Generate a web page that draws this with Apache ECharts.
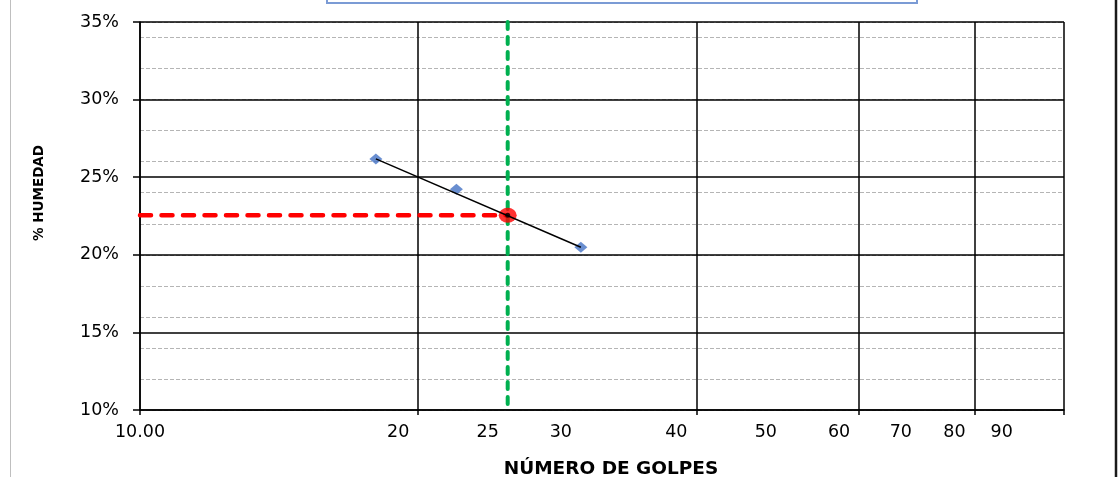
<!DOCTYPE html>
<html>
<head>
<meta charset="utf-8">
<script src="https://cdn.jsdelivr.net/npm/echarts@6/dist/echarts.min.js"></script>
<style>html,body{margin:0;padding:0;background:#fff}#c{width:1118px;height:477px}</style>
</head>
<body>
<div id="c"></div>
<script>
// ---- data ----
const golpes = [18, 22, 30];
const humedad = [0.2618, 0.2423, 0.2049];
const trendGolpes = [18, 30];
const trendHumedad = [0.2618, 0.2049];
const resultGolpes = [25];
const resultHumedad = [0.2255];
const xTickValues = [10, 20, 25, 30, 40, 50, 60, 70, 80, 90];
const xTickLabels = ['10.00', '20', '25', '30', '40', '50', '60', '70', '80', '90'];
const xGridValues = [10, 20, 40, 60, 80, 100];
const xMin = 10, xMax = 100;
const yMin = 0.10, yMax = 0.35, yMajor = 0.05, yMinor = 0.02;
const xTitle = 'NÚMERO DE GOLPES';
const yTitle = '% HUMEDAD';

const FONT = 'DejaVu Sans';
const LBL = 17.5;

function labelFor(v) {
  let best = 0, bd = Infinity;
  xTickValues.forEach((t, i) => { const d = Math.abs(Math.log(v / t)); if (d < bd) { bd = d; best = i; } });
  return best;
}

const chart = echarts.init(document.getElementById('c'), null, { renderer: 'canvas' });
chart.setOption({
  animation: false,
  backgroundColor: '#fff',
  grid: { left: 140, right: 54, top: 22, bottom: 67, containLabel: false, outerBoundsMode: 'none' },
  xAxis: {
    type: 'log', logBase: 10, min: xMin, max: xMax, z: 1,
    name: xTitle, nameLocation: 'middle', nameGap: 50,
    nameTextStyle: { fontFamily: FONT, fontWeight: 'bold', fontSize: 18.5, color: '#000', padding: [0, 0, 0, 18] },
    axisLine: { show: true, lineStyle: { color: '#000', width: 1.5 } },
    axisTick: { show: true, inside: false, length: 5, customValues: xGridValues, lineStyle: { color: '#000', width: 1.5 } },
    splitLine: { show: true, lineStyle: { color: '#000', width: 1.5 } },
    minorTick: { show: false }, minorSplitLine: { show: false },
    axisLabel: {
      customValues: xTickValues, margin: 13, color: '#000', fontFamily: FONT, fontSize: LBL,
      formatter: v => { const i = labelFor(v); return (i === 0 ? '{f|' : '{s|') + xTickLabels[i] + '}'; },
      rich: {
        f: { fontFamily: FONT, fontSize: LBL, color: '#000' },
        s: { fontFamily: FONT, fontSize: LBL, color: '#000', padding: [0, 40, 0, 0] }
      }
    }
  },
  yAxis: [
    {
      type: 'value', min: yMin, max: yMax, interval: yMajor, z: 1,
      name: yTitle, nameLocation: 'middle', nameGap: 94, nameRotate: 90,
      nameTextStyle: { fontFamily: FONT, fontWeight: 'bold', fontSize: 13.5, color: '#000', padding: [0, 0, 0, 46] },
      axisLine: { show: true, lineStyle: { color: '#000', width: 1.5 } },
      axisTick: { show: true, inside: false, length: 7, lineStyle: { color: '#000', width: 1.5 } },
      splitLine: { show: true, lineStyle: { color: '#000', width: 1.5 } },
      axisLabel: { margin: 21, color: '#000', fontFamily: FONT, fontSize: LBL, formatter: v => Math.round(v * 100) + '%' }
    },
    {
      type: 'value', min: yMin, max: yMax, interval: yMinor, z: 0, position: 'left',
      axisLine: { show: false }, axisTick: { show: false }, axisLabel: { show: false },
      splitLine: { show: true, lineStyle: { color: '#B5B5B5', width: 1, type: [4, 2] } }
    }
  ],
  graphic: [
    { type: 'rect', shape: { x: 327, y: -40, width: 590, height: 43 }, style: { fill: null, stroke: '#7B9BD5', lineWidth: 2 }, silent: true },
    { type: 'line', shape: { x1: 10.5, y1: 0, x2: 10.5, y2: 477 }, style: { stroke: '#BFBFBF', lineWidth: 1 }, silent: true },
    { type: 'line', shape: { x1: 1116, y1: 0, x2: 1116, y2: 477 }, style: { stroke: '#1a1a1a', lineWidth: 2.5 }, silent: true }
  ],
  series: [
    {
      name: 'golpes25', type: 'line', z: 3, symbol: 'none', silent: true,
      data: [[resultGolpes[0], yMax], [resultGolpes[0], yMin]],
      lineStyle: { color: '#00B050', width: 4, type: [7, 8], cap: 'round' }
    },
    {
      name: 'humedadLL', type: 'line', z: 4, symbol: 'none', silent: true,
      data: [[xMin, resultHumedad[0]], [resultGolpes[0], resultHumedad[0]]],
      lineStyle: { color: '#FF0000', width: 4.5, type: [11, 10.5], cap: 'round' }
    },
    {
      name: 'puntos', type: 'scatter', z: 5, symbol: 'diamond', symbolSize: [13, 11],
      itemStyle: { color: '#4472C4' },
      data: golpes.map((g, i) => [g, humedad[i]])
    },
    {
      name: 'resultado', type: 'scatter', z: 6, symbol: 'circle', symbolSize: [18, 15],
      itemStyle: { color: '#FF0000' },
      data: resultGolpes.map((g, i) => [g, resultHumedad[i]])
    },
    {
      name: 'tendencia', type: 'line', z: 7, symbol: 'none', silent: true,
      data: trendGolpes.map((g, i) => [g, trendHumedad[i]]),
      lineStyle: { color: '#000', width: 1.5 }
    },
    {
      name: 'centro', type: 'scatter', z: 8, symbol: 'circle', symbolSize: 5,
      itemStyle: { color: '#000' },
      data: resultGolpes.map((g, i) => [g, resultHumedad[i]])
    }
  ]
});
</script>
</body>
</html>
